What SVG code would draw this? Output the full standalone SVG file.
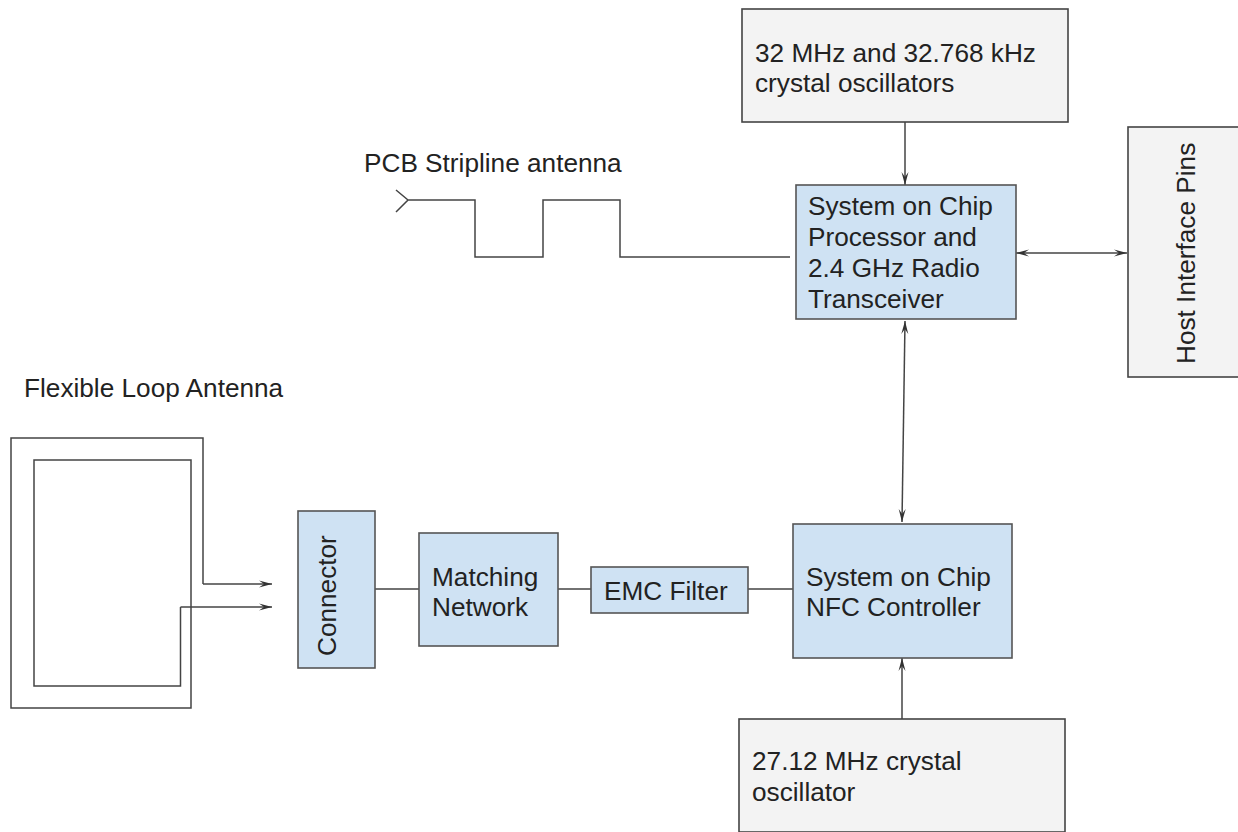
<svg xmlns="http://www.w3.org/2000/svg" width="1238" height="832" viewBox="0 0 1238 832">
<style>
text{font-family:"Liberation Sans",Arial,sans-serif;font-size:26.2px;fill:#222}
.b{fill:#cfe2f3;stroke:#555;stroke-width:1.6}
.g{fill:#f3f3f3;stroke:#444;stroke-width:1.6}
.l{fill:none;stroke:#444;stroke-width:1.5}
</style>
<defs>
<marker id="a" markerUnits="userSpaceOnUse" markerWidth="14" markerHeight="12" refX="13" refY="6" orient="auto-start-reverse"><path d="M0 2.500L13 6L0 9.500L5 6Z" fill="#333"/></marker>
</defs>
<rect width="1238" height="832" fill="#fff"/>
<g id="connectors">
<path class="l" d="M905 122V185" marker-end="url(#a)"/>
<path class="l" d="M396 190L408 200L396 212M408 200H475V257H543V200H620V257H790"/>
<path class="l" d="M1016 253H1127" marker-start="url(#a)" marker-end="url(#a)"/>
<path class="l" d="M905 321L902 522" marker-start="url(#a)" marker-end="url(#a)"/>
<path class="l" d="M203 584V438H11V708H191V460H34V686H180.500V607"/>
<path class="l" d="M203 584H272" marker-end="url(#a)"/>
<path class="l" d="M180.500 607H272" marker-end="url(#a)"/>
<path class="l" d="M375 589H419M558 589H591M748 589H793"/>
<path class="l" d="M902 719V658" marker-end="url(#a)"/>
</g>
<g id="crystal32"><rect class="g" x="742" y="9" width="326" height="113"/><text x="755" y="62">32 MHz and 32.768 kHz</text><text x="755" y="92">crystal oscillators</text></g>
<g id="label-pcb"><text x="364" y="172">PCB Stripline antenna</text></g>
<g id="soc"><rect class="b" x="796" y="185" width="220" height="134"/><text x="808" y="215">System on Chip</text><text x="808" y="246">Processor and</text><text x="808" y="277">2.4 GHz Radio</text><text x="808" y="308">Transceiver</text></g>
<g id="host"><rect class="g" x="1128" y="127" width="112" height="250"/><text transform="translate(1195 364) rotate(-90)">Host Interface Pins</text></g>
<g id="label-loop"><text x="24" y="397">Flexible Loop Antenna</text></g>
<g id="connector"><rect class="b" x="298" y="511" width="77" height="157"/><text transform="translate(336 656) rotate(-90)">Connector</text></g>
<g id="matching"><rect class="b" x="419" y="533" width="139" height="113"/><text x="432" y="586">Matching</text><text x="432" y="616">Network</text></g>
<g id="emc"><rect class="b" x="591" y="567" width="157" height="46"/><text x="604" y="600">EMC Filter</text></g>
<g id="nfc"><rect class="b" x="793" y="524" width="219" height="134"/><text x="806" y="586">System on Chip</text><text x="806" y="616">NFC Controller</text></g>
<g id="crystal27"><rect class="g" x="739" y="719" width="326" height="113"/><text x="752" y="770">27.12 MHz crystal</text><text x="752" y="801">oscillator</text></g>
</svg>
